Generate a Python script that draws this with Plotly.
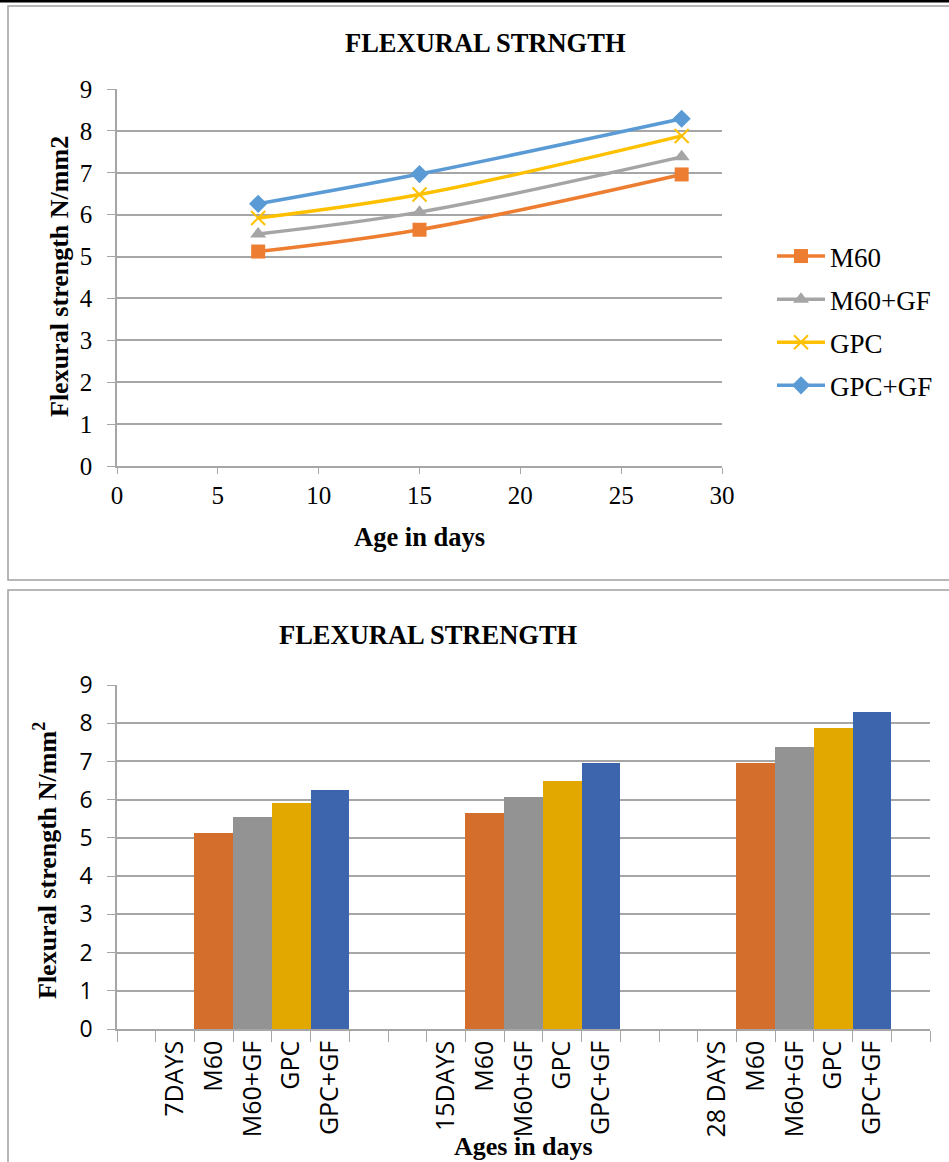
import plotly.graph_objects as go

ages = [7, 15, 28]
series_names = ["M60", "M60+GF", "GPC", "GPC+GF"]
m60 = [5.12, 5.64, 6.96]
m60_gf = [5.54, 6.06, 7.38]
gpc = [5.92, 6.48, 7.88]
gpc_gf = [6.26, 6.97, 8.29]
values = [m60, m60_gf, gpc, gpc_gf]

line_colors = ["#ED7D31", "#A5A5A5", "#FFC000", "#5B9BD5"]
bar_colors = ["#D46E2C", "#939393", "#E2A800", "#3D65AD"]
symbols = ["square", "triangle-up", "x-thin", "diamond"]

# bar chart category slots
bar_labels = ["", "7DAYS", "M60", "M60+GF", "GPC", "GPC+GF", "", "",
              "15DAYS", "M60", "M60+GF", "GPC", "GPC+GF", "", "",
              "28 DAYS", "M60", "M60+GF", "GPC", "GPC+GF", ""]
group_start = [2, 9, 16]

W, H = 949, 1162
fig = go.Figure()

serif = "Liberation Serif"
sans = "Open Sans"

for i, (name, vals) in enumerate(zip(series_names, values)):
    mk = dict(symbol=symbols[i], size=14, color=line_colors[i])
    if symbols[i] == "x-thin":
        mk = dict(symbol="x-thin", size=14, color=line_colors[i],
                  line=dict(color=line_colors[i], width=2))
    fig.add_trace(go.Scatter(
        x=ages, y=vals, name=name, mode="lines+markers",
        line=dict(color=line_colors[i], width=3.5, shape="spline"),
        marker=mk, legendgroup=name, xaxis="x", yaxis="y"))

for i, (name, vals) in enumerate(zip(series_names, values)):
    fig.add_trace(go.Bar(
        x=[g + i for g in group_start], y=vals, width=1,
        marker=dict(color=bar_colors[i], line=dict(width=0)),
        showlegend=False, xaxis="x2", yaxis="y2"))

grid = "#A6A6A6"
fig.update_layout(
    template="none",
    width=W, height=H, autosize=False,
    margin=dict(l=0, r=0, t=0, b=0, pad=0, autoexpand=False),
    paper_bgcolor="white", plot_bgcolor="white",
    showlegend=True,
    legend=dict(x=772 / W, y=1 - 232 / H, xanchor="left", yanchor="top",
                font=dict(family=serif, size=27, color="black"),
                itemwidth=48, tracegroupgap=5, bgcolor="rgba(0,0,0,0)"),
    xaxis=dict(domain=[117 / W, 722 / W], anchor="y", range=[0, 30],
               tickvals=[0, 5, 10, 15, 20, 25, 30], showgrid=False,
               showline=True, linecolor=grid, linewidth=1.5,
               ticks="outside", ticklen=6, tickcolor=grid, automargin=False,
               tickfont=dict(family=serif, size=25, color="black"),
               zeroline=False),
    yaxis=dict(domain=[1 - 466 / H, 1 - 89 / H], anchor="x", range=[0, 9],
               tickvals=list(range(10)), showgrid=True, gridcolor=grid,
               gridwidth=1.5, showline=True, linecolor=grid, linewidth=1.5,
               ticks="outside", ticklen=8, tickcolor=grid, automargin=False,
               ticklabelstandoff=10,
               tickfont=dict(family=serif, size=25, color="black"),
               zeroline=False),
    xaxis2=dict(domain=[117 / W, 930 / W], anchor="y2", range=[-0.5, 20.5],
                tickvals=list(range(len(bar_labels))), ticktext=bar_labels,
                tickangle=-90, ticks="", showgrid=False, automargin=False,
                showline=True, linecolor=grid, linewidth=1.5,
                tickfont=dict(family=sans, size=25, color="black"),
                minor=dict(tickvals=[k - 0.5 for k in range(len(bar_labels) + 1)],
                           ticks="outside", ticklen=11, tickcolor=grid,
                           showgrid=False),
                zeroline=False),
    yaxis2=dict(domain=[1 - 1029 / H, 1 - 685 / H], anchor="x2", range=[0, 9],
                tickvals=list(range(10)), showgrid=True, gridcolor=grid,
                gridwidth=1.5, showline=True, linecolor=grid, linewidth=1.5,
                ticks="outside", ticklen=8, tickcolor=grid, automargin=False,
                ticklabelstandoff=10,
                tickfont=dict(family=sans, size=23, color="black"),
                zeroline=False),
    bargap=0,
)

ann = [
    dict(text="<b>FLEXURAL STRNGTH</b>", x=485 / W, y=1 - 43 / H,
         font=dict(family=serif, size=26.5, color="black")),
    dict(text="<b>Flexural strength N/mm2</b>", x=59 / W, y=1 - 277 / H,
         textangle=-90, font=dict(family=serif, size=26, color="black")),
    dict(text="<b>Age in days</b>", x=419 / W, y=1 - 537 / H,
         font=dict(family=serif, size=26.5, color="black")),
    dict(text="<b>FLEXURAL STRENGTH</b>", x=428 / W, y=1 - 635 / H,
         font=dict(family=serif, size=26.5, color="black")),
    dict(text="<b>Flexural strength N/mm<sup>2</sup></b>", x=45 / W, y=1 - 861 / H,
         textangle=-90, font=dict(family=serif, size=26, color="black")),
    dict(text="<b>Ages in days</b>", x=523 / W, y=1 - 1146 / H,
         font=dict(family=serif, size=26, color="black")),
]
for a in ann:
    a.update(xref="paper", yref="paper", showarrow=False,
             xanchor="center", yanchor="middle")
fig.update_layout(annotations=ann)

box = "#A0A0A0"
fig.update_layout(shapes=[
    dict(type="rect", xref="paper", yref="paper", x0=8 / W, x1=1.02,
         y0=1 - 580 / H, y1=1 - 6 / H, line=dict(color=box, width=1.5)),
    dict(type="line", xref="paper", yref="paper", x0=0, x1=1,
         y0=1 - 1 / H, y1=1 - 1 / H, line=dict(color="black", width=3)),
    dict(type="rect", xref="paper", yref="paper", x0=8 / W, x1=1.02,
         y0=-0.02, y1=1 - 590 / H, line=dict(color=box, width=1.5)),
])

fig.write_html("out.html")
